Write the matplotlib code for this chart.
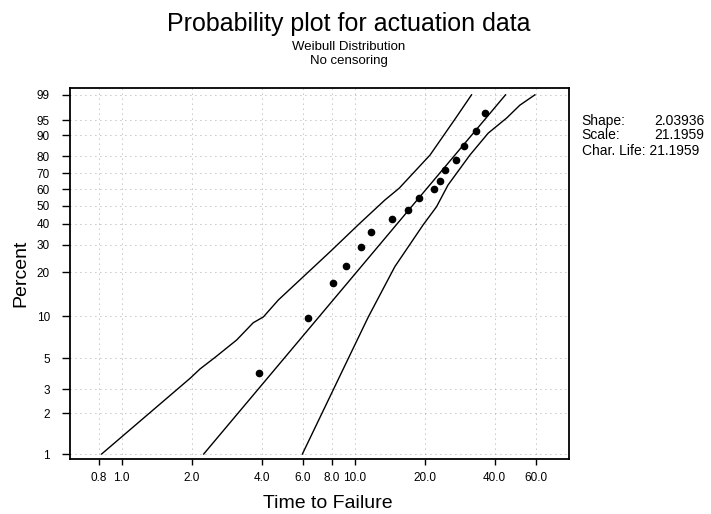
import numpy as np
import matplotlib
matplotlib.use("Agg")
import matplotlib.pyplot as plt
from matplotlib.ticker import FixedLocator, NullLocator, FixedFormatter

plt.rcParams["font.family"] = ["Liberation Sans", "DejaVu Sans"]

# failure times and plotted percentages
fail_times = [3.9, 6.3, 8.05, 9.15, 10.7, 11.75, 14.5, 16.95, 18.85, 22.0,
              23.25, 24.5, 27.2, 29.6, 33.3, 36.3]
fail_pct = [3.9, 9.7, 16.9, 22.0, 29.0, 35.7, 42.5, 47.6, 55.0, 60.4,
            65.6, 72.0, 78.1, 85.4, 91.8, 96.5]

# fitted weibull line
fit_x = [2.25, 44.5]
fit_pct = [1.0, 99.0]

# confidence bands
band_left_x = [0.82, 1.97, 2.17, 2.52, 3.12, 3.67, 4.06, 4.71, 7.84, 10.55,
               13.5, 15.55, 21.1, 27.2, 31.8]
band_left_pct = [1.0, 3.6, 4.2, 5.1, 6.8, 9.0, 9.9, 13.0, 27.1, 40.3,
                 53.5, 60.8, 80.8, 95.5, 99.0]
band_right_x = [5.97, 9.4, 11.46, 14.9, 19.7, 22.5, 25.2, 31.3, 37.5, 45.0,
                51.3, 59.5]
band_right_pct = [1.0, 5.0, 9.9, 21.8, 39.4, 49.5, 62.8, 80.8, 90.9, 95.5,
                  97.9, 99.0]

x_ticks = [0.8, 1.0, 2.0, 4.0, 6.0, 8.0, 10.0, 20.0, 40.0, 60.0]
x_labels = ["0.8", "1.0", "2.0", "4.0", "6.0", "8.0", "10.0", "20.0", "40.0", "60.0"]
y_ticks = [1, 2, 3, 5, 10, 20, 30, 40, 50, 60, 70, 80, 90, 95, 99]

param_names = ["Shape:", "Scale:"]
param_values = ["2.03936", "21.1959"]
char_life = "21.1959"


def wb_fwd(p):
    p = np.clip(np.asarray(p, dtype=float), 1e-6, 100 - 1e-6)
    return np.log(-np.log(1 - p / 100.0))


def wb_inv(w):
    return 100.0 * (1 - np.exp(-np.exp(np.asarray(w, dtype=float))))


fig = plt.figure(figsize=(7.11, 5.14), dpi=100)
ax = fig.add_axes([0.0985, 0.107, 0.7015, 0.722])

ax.set_xscale("log")
ax.set_yscale("function", functions=(wb_fwd, wb_inv))

ax.plot(band_left_x, band_left_pct, color="black", lw=1.0)
ax.plot(fit_x, fit_pct, color="black", lw=1.0)
ax.plot(band_right_x, band_right_pct, color="black", lw=1.0)
ax.plot(fail_times, fail_pct, "o", color="black", ms=4.5)

ax.set_xlim(0.60, 83.2)
ax.set_ylim(0.919, 99.44)

ax.xaxis.set_major_locator(FixedLocator(x_ticks))
ax.xaxis.set_major_formatter(FixedFormatter(x_labels))
ax.xaxis.set_minor_locator(NullLocator())
ax.yaxis.set_major_locator(FixedLocator(y_ticks))
ax.yaxis.set_major_formatter(FixedFormatter([str(v) for v in y_ticks]))
ax.yaxis.set_minor_locator(NullLocator())

ax.tick_params(axis="x", direction="out", length=4, width=1.0, pad=5.5, labelsize=8.5)
ax.tick_params(axis="y", direction="out", length=5.5, width=1.0, pad=9, labelsize=8.5)

ax.grid(True, color="0.55", lw=0.6, linestyle=(0, (1, 5)))
for s in ax.spines.values():
    s.set_linewidth(1.3)

fig.text(0.491, 0.953, "Probability plot for actuation data", ha="center", va="center", fontsize=18)
fig.text(0.491, 0.909, "Weibull Distribution", ha="center", va="center", fontsize=9.5)
fig.text(0.491, 0.881, "No censoring", ha="center", va="center", fontsize=9.5)

fig.text(0.030, 0.468, "Percent", rotation=90, ha="center", va="center", fontsize=14)
fig.text(0.461, 0.021, "Time to Failure", ha="center", va="center", fontsize=14)

# fit parameters to the right of the plot
fig.text(0.818, 0.751, "\n".join(param_names), ha="left", va="center",
         fontsize=10, linespacing=0.92)
fig.text(0.920, 0.751, "\n".join(param_values), ha="left", va="center",
         fontsize=10, linespacing=0.92)
fig.text(0.818, 0.707, "Char. Life: " + char_life, ha="left", va="center", fontsize=10)

fig.savefig("out.png", dpi=100)
